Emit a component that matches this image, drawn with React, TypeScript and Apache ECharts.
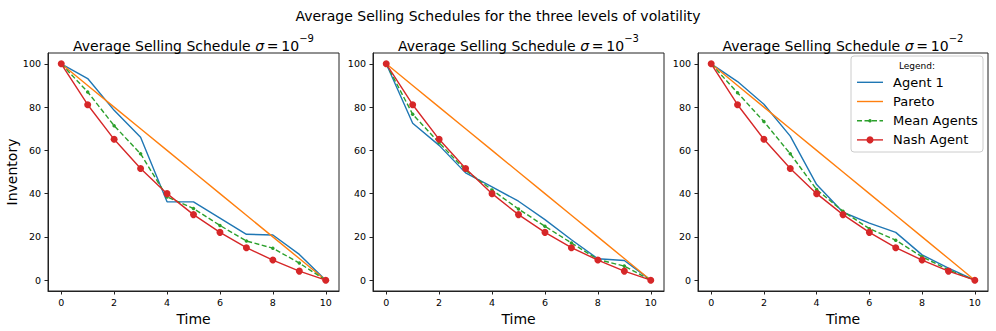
import React, { useEffect, useRef } from "react";
import * as echarts from "echarts";

// ---- data ----
const times = [0, 1, 2, 3, 4, 5, 6, 7, 8, 9, 10];
const sigmaExponents = ["−9", "−3", "−2"];
const xTicks = [0, 2, 4, 6, 8, 10];
const yTicks = [0, 20, 40, 60, 80, 100];

const pareto = [100, 90, 80, 70, 60, 50, 40, 30, 20, 10, 0];
const nashAgent = [100, 81.1, 65.1, 51.6, 40.0, 30.3, 22.1, 15.0, 9.3, 4.2, 0];

const agent1Sigma9 = [100, 93.2, 78.5, 66.1, 36.2, 36.2, 28.7, 21.2, 20.9, 11.9, 0];
const meanSigma9 = [100, 87.0, 71.4, 58.4, 38.5, 33.1, 25.3, 18.1, 14.8, 7.9, 0];

const agent1Sigma3 = [100, 72.5, 62.3, 49.6, 43.1, 36.5, 28.0, 18.7, 9.9, 9.1, 0];
const meanSigma3 = [100, 76.7, 63.5, 50.8, 41.7, 32.9, 24.9, 17.2, 9.6, 6.5, 0];

const agent1Sigma2 = [100, 91.8, 81.3, 66.6, 44.2, 31.4, 26.4, 22.1, 11.7, 5.6, 0];
const meanSigma2 = [100, 86.6, 73.3, 58.4, 41.9, 31.8, 23.8, 18.5, 10.8, 4.8, 0];

const agent1Panels = [agent1Sigma9, agent1Sigma3, agent1Sigma2];
const meanPanels = [meanSigma9, meanSigma3, meanSigma2];

const legendNames = ["Agent 1", "Pareto", "Mean Agents", "Nash Agent"];

// ---- style ----
const BLUE = "#1f77b4";
const ORANGE = "#ff7f0e";
const GREEN = "#2ca02c";
const RED = "#d62728";
const FONT = "DejaVu Sans";
const AXIS_COLOR = "#222";

const gridLefts = [48, 373, 698];
const gridWidths = [291, 291, 290];
const GRID_TOP = 53;
const GRID_HEIGHT = 238;

const pairs = (ys: number[]) => times.map((t, i) => [t, ys[i]]);

export default function App() {
  const ref = useRef<HTMLDivElement>(null);

  useEffect(() => {
    if (!ref.current) return;
    const chart = echarts.init(ref.current, null, { renderer: "svg" });

    const grids = gridLefts.map((left, i) => ({
      left,
      top: GRID_TOP,
      width: gridWidths[i],
      height: GRID_HEIGHT,
      show: true,
      borderColor: AXIS_COLOR,
      borderWidth: 1,
      backgroundColor: "transparent",
      containLabel: false,
    }));

    const xAxes = gridLefts.map((_, i) => ({
      type: "value",
      gridIndex: i,
      min: -0.5,
      max: 10.5,
      name: "Time",
      nameLocation: "middle",
      nameGap: 17,
      nameTextStyle: { fontFamily: FONT, fontSize: 14, color: "#000" },
      axisLine: { show: true, onZero: false, lineStyle: { color: AXIS_COLOR, width: 1 } },
      axisTick: { show: true, length: 3.5, customValues: xTicks, lineStyle: { color: AXIS_COLOR } },
      axisLabel: {
        customValues: xTicks,
        margin: 6,
        fontFamily: FONT,
        fontSize: 9.5,
        color: "#000",
      },
      splitLine: { show: false },
    }));

    const yAxes = gridLefts.map((_, i) => ({
      type: "value",
      gridIndex: i,
      min: -5,
      max: 105,
      name: i === 0 ? "Inventory" : "",
      nameLocation: "middle",
      nameGap: 27,
      nameTextStyle: { fontFamily: FONT, fontSize: 14, color: "#000" },
      axisLine: { show: true, onZero: false, lineStyle: { color: AXIS_COLOR, width: 1 } },
      axisTick: { show: true, length: 3.5, customValues: yTicks, lineStyle: { color: AXIS_COLOR } },
      axisLabel: {
        customValues: yTicks,
        margin: 7,
        fontFamily: FONT,
        fontSize: 9.5,
        color: "#000",
      },
      splitLine: { show: false },
    }));

    const series: any[] = [];
    gridLefts.forEach((_, i) => {
      series.push({
        type: "line",
        name: "Agent 1",
        xAxisIndex: i,
        yAxisIndex: i,
        data: pairs(agent1Panels[i]),
        symbol: "none",
        lineStyle: { color: BLUE, width: 1.4 },
        itemStyle: { color: BLUE },
      });
      series.push({
        type: "line",
        name: "Pareto",
        xAxisIndex: i,
        yAxisIndex: i,
        data: pairs(pareto),
        symbol: "none",
        lineStyle: { color: ORANGE, width: 1.4 },
        itemStyle: { color: ORANGE },
      });
      series.push({
        type: "line",
        name: "Mean Agents",
        xAxisIndex: i,
        yAxisIndex: i,
        data: pairs(meanPanels[i]),
        symbol: "circle",
        symbolSize: 3.5,
        lineStyle: { color: GREEN, width: 1.4, type: [5, 2.5] },
        itemStyle: { color: GREEN },
      });
      series.push({
        type: "line",
        name: "Nash Agent",
        xAxisIndex: i,
        yAxisIndex: i,
        data: pairs(nashAgent),
        symbol: "circle",
        symbolSize: 7,
        lineStyle: { color: RED, width: 1.4 },
        itemStyle: { color: RED },
      });
    });

    const titleRich = {
      a: { fontFamily: FONT, fontSize: 14, color: "#000", lineHeight: 20, verticalAlign: "bottom" },
      s: { fontFamily: FONT, fontSize: 14, fontStyle: "italic", color: "#000", lineHeight: 20, verticalAlign: "bottom" },
      p: { fontFamily: FONT, fontSize: 10, color: "#000", lineHeight: 20, verticalAlign: "top" },
    };

    const panelTitles = gridLefts.map((left, i) => ({
      type: "text",
      z: 50,
      style: {
        x: left + gridWidths[i] / 2,
        y: 43,
        text: `{a|Average Selling Schedule }{s|σ}{a|\u2009=\u200910}{p|${sigmaExponents[i]}}`,
        rich: titleRich,
        textAlign: "center",
        textVerticalAlign: "middle",
      },
    }));

    const LEG_X = 851;
    const LEG_Y = 56;
    const itemYs = [82.3, 101.5, 120.7, 139.9];
    const legendColors = [BLUE, ORANGE, GREEN, RED];
    const legendElements: any[] = [
      {
        type: "rect",
        z: 100,
        shape: { x: LEG_X, y: LEG_Y, width: 132, height: 96, r: 3 },
        style: { fill: "rgba(255,255,255,0.85)", stroke: "#cccccc", lineWidth: 1 },
      },
      {
        type: "text",
        z: 101,
        style: {
          x: LEG_X + 66,
          y: 66,
          text: "Legend:",
          fontFamily: FONT,
          fontSize: 9,
          fill: "#000",
          textAlign: "center",
          textVerticalAlign: "middle",
        },
      },
    ];
    legendNames.forEach((name, k) => {
      const y = itemYs[k];
      legendElements.push({
        type: "line",
        z: 101,
        shape: { x1: 857, y1: y, x2: 883, y2: y },
        style: {
          stroke: legendColors[k],
          lineWidth: 1.4,
          lineDash: k === 2 ? [5, 2.5] : null,
        },
      });
      if (k === 2 || k === 3) {
        legendElements.push({
          type: "circle",
          z: 102,
          shape: { cx: 870, cy: y, r: k === 2 ? 1.8 : 3.5 },
          style: { fill: legendColors[k] },
        });
      }
      legendElements.push({
        type: "text",
        z: 101,
        style: {
          x: 893,
          y,
          text: name,
          fontFamily: FONT,
          fontSize: 13,
          fill: "#000",
          textAlign: "left",
          textVerticalAlign: "middle",
        },
      });
    });

    chart.setOption({
      animation: false,
      backgroundColor: "#fff",
      title: {
        text: "Average Selling Schedules for the three levels of volatility",
        left: "center",
        top: 4,
        textStyle: { fontFamily: FONT, fontSize: 14, fontWeight: "normal", color: "#000" },
      },
      grid: grids,
      xAxis: xAxes,
      yAxis: yAxes,
      series,
      graphic: [...panelTitles, ...legendElements],
    });

    return () => chart.dispose();
  }, []);

  return (
    <div
      ref={ref}
      style={{ position: "absolute", left: 0, top: 0, width: 996, height: 331 }}
    />
  );
}
